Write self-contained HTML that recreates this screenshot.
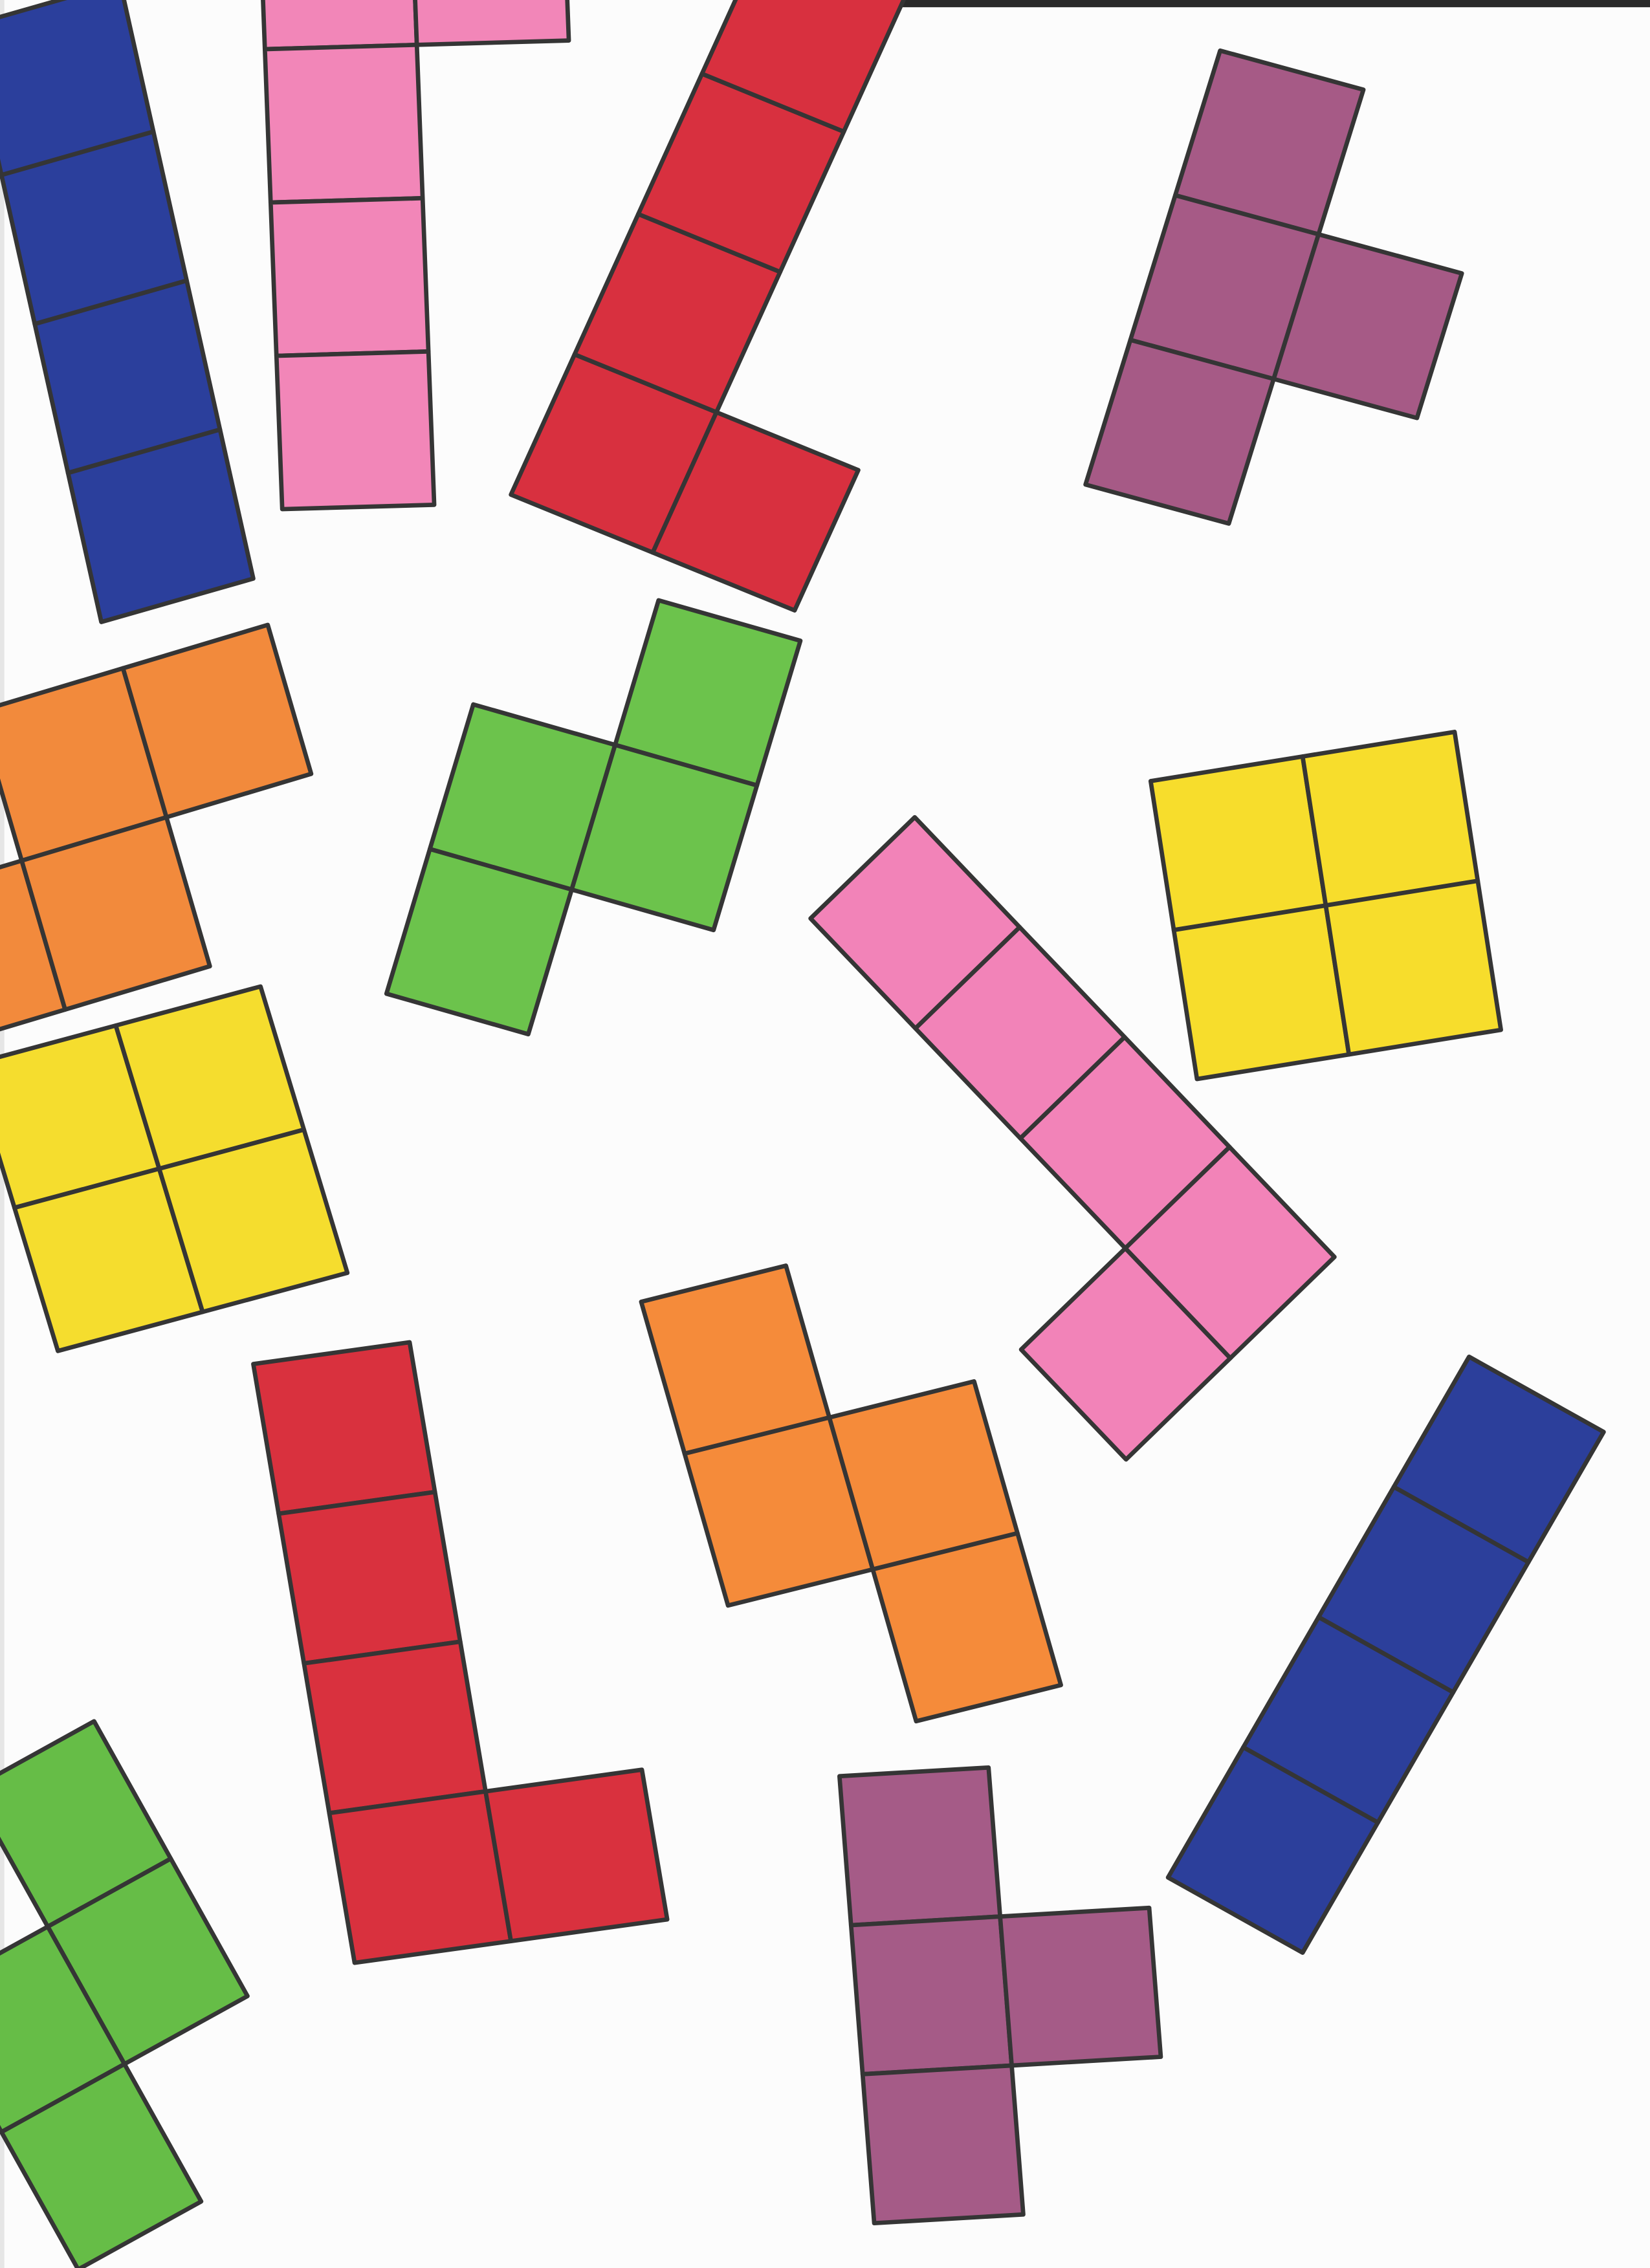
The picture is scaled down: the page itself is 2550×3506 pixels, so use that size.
<!DOCTYPE html>
<html><head><meta charset="utf-8"><title>Hand-drawn tetromino pieces</title>
<style>
html,body{margin:0;padding:0;background:#fdfdfd;}
#wrap{width:2550px;height:3506px;position:relative;overflow:hidden;background:#fcfcfc;}
svg{display:block;}
</style></head>
<body>
<div id="wrap">
<svg id="chart" width="2550" height="3506" viewBox="0 0 1140 1568" preserveAspectRatio="none" xmlns="http://www.w3.org/2000/svg">
<rect x="0" y="0" width="1140" height="1568" fill="#fcfcfc"></rect>
<rect x="560" y="0" width="580" height="5" fill="#2a2a2a"></rect>
<rect x="0" y="0" width="3" height="1568" fill="#e6e6e6"></rect>
<g id="pieces"></g>
</svg>
</div>
<script>
// piece names, colours, origins, column vectors, row vectors, cells
const pieceNames = ["blue-i-top","pink-l-top","red-l-top","purple-t-top","orange-s-left","green-s-middle","yellow-o-right","pink-j-middle","orange-z-middle","yellow-o-left","red-l-bottom","purple-t-bottom","blue-i-bottom","green-s-bottom"];
const pieceColors = ["#2b3f9c","#f286b8","#d8303f","#a65a86","#f28a3c","#6cc34c","#f7dd2c","#f283b8","#f58b3a","#f5dd2e","#d9313e","#a55b87","#2c3f9b","#66bd47"];
const pieceOrigins = [[-22,18],[179,-72],[353,342],[843,35],[85,462],[357,387],[795,540],[560,635],[443,900],[-20,736],[175,943],[580,1228],[1015,938],[-20,1237]];
const pieceU = [[105,-30],[105,-3],[98,40],[99,27],[100,-30],[98,28],[105,-17],[72,-70],[100,-25],[100,-27],[108,-15],[103,-6],[93,52],[85,-47]];
const pieceV = [[23,103],[4,106],[44,-97],[-31,100],[30,103],[-30,100],[16,103],[72.5,76],[30,105],[30,99],[17.5,103.5],[8,103],[-52,90],[53,95]];
const pieceCells = [
 [[0,0],[0,1],[0,2],[0,3]],
 [[0,0],[0,1],[0,2],[0,3],[1,0]],
 [[0,0],[0,1],[0,2],[0,3],[1,0]],
 [[0,0],[0,1],[0,2],[1,1]],
 [[-1,0],[0,0],[-2,1],[-1,1]],
 [[1,0],[0,1],[1,1],[0,2]],
 [[0,0],[1,0],[0,1],[1,1]],
 [[0,0],[0,1],[0,2],[0,3],[-1,3]],
 [[0,0],[0,1],[1,1],[1,2]],
 [[0,0],[1,0],[0,1],[1,1]],
 [[0,0],[0,1],[0,2],[0,3],[1,3]],
 [[0,0],[0,1],[0,2],[1,1]],
 [[0,0],[0,1],[0,2],[0,3]],
 [[0,0],[0,1],[-1,1],[-1,2]]
];
const NS="http://www.w3.org/2000/svg";
const layer=document.getElementById('pieces');
function pt(o,u,v,i,j){return (o[0]+i*u[0]+j*v[0]).toFixed(1)+","+(o[1]+i*u[1]+j*v[1]).toFixed(1);}
pieceNames.forEach(function(name,p){
  const g=document.createElementNS(NS,'g');
  
  
  const o=pieceOrigins[p],u=pieceU[p],v=pieceV[p];
  pieceCells[p].forEach(function(c,k){
    const i=c[0],j=c[1];
    const poly=document.createElementNS(NS,'polygon');
    poly.setAttribute('points',[pt(o,u,v,i,j),pt(o,u,v,i+1,j),pt(o,u,v,i+1,j+1),pt(o,u,v,i,j+1)].join(' '));
    poly.setAttribute('fill',pieceColors[p]);
    poly.setAttribute('stroke','#353535');
    poly.setAttribute('stroke-width','3');
    poly.setAttribute('stroke-linejoin','round');
    
    
    g.appendChild(poly);
  });
  layer.appendChild(g);
});
</script>
</body></html>
